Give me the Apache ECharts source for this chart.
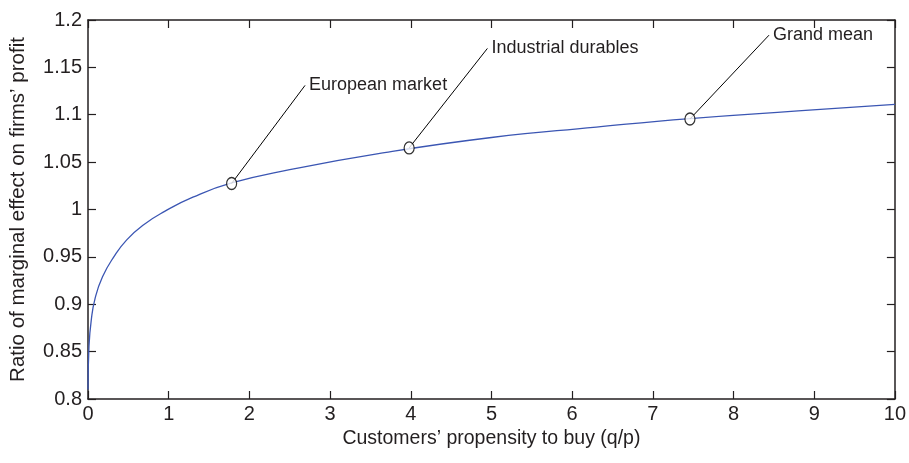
<!DOCTYPE html>
<html>
<head>
<meta charset="utf-8">
<script src="https://cdn.jsdelivr.net/npm/echarts@6/dist/echarts.min.js"></script>
<style>
  html, body { margin: 0; padding: 0; background: #fff; }
  #chart { width: 909px; height: 463px; }
</style>
</head>
<body>
<div id="chart"></div>
<script>
// curve
var qp    = [0, 0.012, 0.04, 0.09, 0.18, 0.32, 0.48, 0.69, 0.95, 1.3, 1.78, 2.5, 3.6, 5, 6.3, 7.46, 8.8, 10];
var ratio = [0.810, 0.855, 0.883, 0.907, 0.929, 0.950, 0.968, 0.984, 0.998, 1.013, 1.028, 1.042, 1.059, 1.076, 1.087, 1.096, 1.104, 1.111];

// marked markets and where their labels sit
var markNames = ['European market', 'Industrial durables', 'Grand mean'];
var markX     = [1.78, 3.98, 7.46];
var markY     = [1.0275, 1.065, 1.0955];
var labelX    = [2.69, 4.95, 8.44];
var labelY    = [1.131, 1.170, 1.184];

var font = 'Liberation Sans, Arial, Helvetica, sans-serif';
var ink = '#231f20';

var chart = echarts.init(document.getElementById('chart'));

var curve = qp.map(function (x, i) { return [x, ratio[i]]; });

var series = [{
    type: 'line',
    data: curve,
    smooth: 0.5,
    showSymbol: false,
    lineStyle: { color: '#3b56b3', width: 1.3 },
    z: 2
}];

markNames.forEach(function (name, i) {
    series.push({
        type: 'line',
        data: [[markX[i], markY[i]], [labelX[i], labelY[i]]],
        showSymbol: false,
        lineStyle: { color: '#000', width: 1 },
        endLabel: {
            show: true,
            formatter: name,
            distance: 4,
            color: ink,
            fontFamily: font,
            fontSize: 18
        },
        z: 3
    });
});

series.push({
    type: 'scatter',
    data: markX.map(function (x, i) { return [x, markY[i]]; }),
    symbol: 'circle',
    symbolSize: [10, 12],
    itemStyle: { color: '#fff', borderColor: '#000', borderWidth: 1.3 },
    z: 5
});

// fresh axis style per axis, no onZero so the mirror axes stay on the box edges
function frame() {
    return {
        axisLine: { show: true, onZero: false, lineStyle: { color: ink, width: 1.5 } },
        axisTick: { show: true, inside: true, length: 8, lineStyle: { color: ink, width: 1.2 } },
        splitLine: { show: false }
    };
}

var option = {
    animation: false,
    grid: { left: 88, right: 9, top: 20, bottom: 64 },
    xAxis: [
        Object.assign({
            type: 'value', min: 0, max: 10, interval: 1,
            name: 'Customers\u2019 propensity to buy (q/p)',
            nameLocation: 'middle',
            nameGap: 27,
            nameTextStyle: { color: ink, fontFamily: font, fontSize: 19.5 },
            axisLabel: { color: ink, fontFamily: font, fontSize: 20, margin: 5 }
        }, frame()),
        Object.assign({
            type: 'value', min: 0, max: 10, interval: 1, position: 'top',
            axisLabel: { show: false }
        }, frame())
    ],
    yAxis: [
        Object.assign({
            type: 'value', min: 0.8, max: 1.2, interval: 0.05,
            name: 'Ratio of marginal effect on firms\u2019 profit',
            nameLocation: 'middle',
            nameGap: 59,
            nameTextStyle: { color: ink, fontFamily: font, fontSize: 20.5 },
            axisLabel: { color: ink, fontFamily: font, fontSize: 20, margin: 6 }
        }, frame()),
        Object.assign({
            type: 'value', min: 0.8, max: 1.2, interval: 0.05, position: 'right',
            axisLabel: { show: false }
        }, frame())
    ],
    series: series
};

chart.setOption(option);
</script>
</body>
</html>
